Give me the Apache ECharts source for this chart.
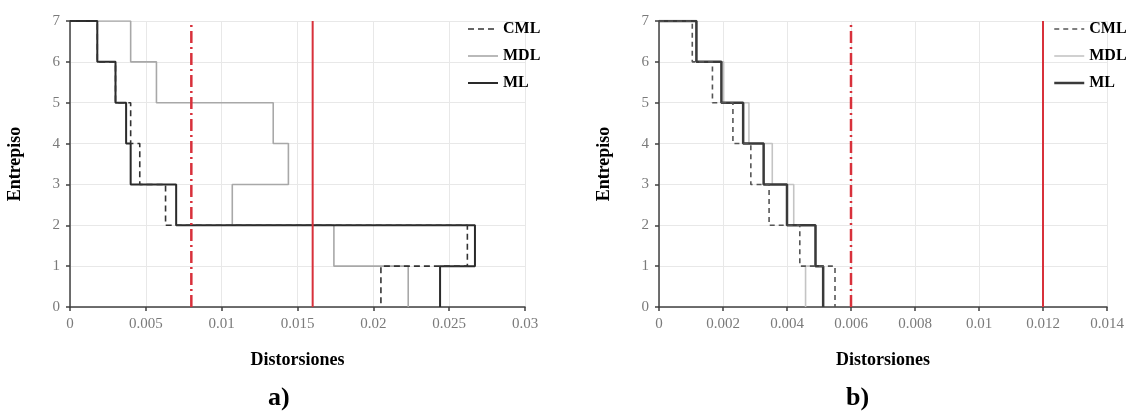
<!DOCTYPE html>
<html>
<head>
<meta charset="utf-8">
<script src="https://cdn.jsdelivr.net/npm/echarts@6/dist/echarts.min.js"></script>
<style>
html,body{margin:0;padding:0;background:#fff;}
#chart{width:1133px;height:414px;}
</style>
</head>
<body>
<div id="chart"></div>
<script>
// Story drifts, listed from story 1 (bottom) to story 7 (top)
const stories = [1, 2, 3, 4, 5, 6, 7];
const cmlA = [0.0205, 0.0262, 0.0063, 0.0046, 0.0040, 0.0030, 0.0018];
const mdlA = [0.0223, 0.0174, 0.0107, 0.0144, 0.0134, 0.0057, 0.0040];
const mlA  = [0.0244, 0.0267, 0.0070, 0.0040, 0.0037, 0.0030, 0.0018];
const cmlB = [0.0055, 0.0044, 0.00344, 0.00287, 0.00231, 0.00167, 0.00104];
const mdlB = [0.00458, 0.0049, 0.00421, 0.00354, 0.00281, 0.00202, 0.00115];
const mlB  = [0.00513, 0.00489, 0.0040, 0.00327, 0.00263, 0.00195, 0.00117];
// Drift limits (dash-dot, solid)
const limitsA = [0.008, 0.016];
const limitsB = [0.006, 0.012];
const seriesNames = ['CML', 'MDL', 'ML'];
const captions = ['a)', 'b)'];
const xTickA = {min: 0, max: 0.03, interval: 0.005};
const xTickB = {min: 0, max: 0.014, interval: 0.002};
const yTick = {min: 0, max: 7, interval: 1};

function steps(d) {
  const top = stories[stories.length - 1];
  const pts = [[0, top]];
  for (let i = stories.length - 1; i >= 0; i--) {
    pts.push([d[i], stories[i]]);
    pts.push([d[i], stories[i] - 1]);
  }
  return pts;
}
function vline(x) { return [[x, 0], [x, stories[stories.length - 1]]]; }

const serif = 'Liberation Serif';
const red = '#d8313b';
const gridColor = '#e8e8e8';

function xAxis(idx, t) {
  return {
    type: 'value', gridIndex: idx, min: t.min, max: t.max, interval: t.interval,
    name: 'Distorsiones', nameLocation: 'middle', nameGap: 44,
    nameTextStyle: {fontFamily: serif, fontWeight: 'bold', fontSize: 18, color: '#000'},
    axisLine: {show: true, lineStyle: {color: '#404040', width: 1.5}},
    axisTick: {show: true, length: 4, lineStyle: {color: '#404040', width: 1.5}},
    axisLabel: {fontFamily: serif, fontSize: 15, color: '#7a7a7a', margin: 10},
    splitLine: {show: true, lineStyle: {color: gridColor, width: 1}}
  };
}
function yAxis(idx) {
  return {
    type: 'value', gridIndex: idx, min: yTick.min, max: yTick.max, interval: yTick.interval,
    name: 'Entrepiso', nameLocation: 'middle', nameGap: 46, nameRotate: 90,
    nameTextStyle: {fontFamily: serif, fontWeight: 'bold', fontSize: 18, color: '#000'},
    axisLine: {show: true, onZero: false, lineStyle: {color: '#404040', width: 1.5}},
    axisTick: {show: true, length: 4, lineStyle: {color: '#404040', width: 1.5}},
    axisLabel: {fontFamily: serif, fontSize: 15, color: '#7a7a7a', margin: 10},
    splitLine: {show: true, lineStyle: {color: gridColor, width: 1}}
  };
}
function profile(name, data, idx, style) {
  return {
    name: name, type: 'line', xAxisIndex: idx, yAxisIndex: idx,
    data: data, symbol: 'none', animation: false, z: style.z || 2,
    lineStyle: {color: style.color, width: style.width, type: style.type || 'solid'},
    itemStyle: {color: style.color}
  };
}
function limitLine(x, idx, dashed) {
  return {
    name: dashed ? 'lim1' : 'lim2', type: 'line', xAxisIndex: idx, yAxisIndex: idx,
    data: vline(x), symbol: 'none', animation: false, z: 5, silent: true,
    lineStyle: {color: red, width: dashed ? 2.5 : 2, type: dashed ? [12, 4, 2, 4] : 'solid'}
  };
}
const styA = {
  CML: {color: '#333', width: 1.6, type: [6, 4], z: 4},
  MDL: {color: '#a8a8a8', width: 1.6, z: 2},
  ML:  {color: '#2a2a2a', width: 2, z: 3}
};
const styB = {
  CML: {color: '#555', width: 1.6, type: [5, 4], z: 4},
  MDL: {color: '#c4c4c4', width: 1.6, z: 2},
  ML:  {color: '#3a3a3a', width: 2.5, z: 3}
};
function legend(left, sty) {
  return {
    orient: 'vertical', left: left, top: 21, padding: 0,
    itemWidth: 30, itemHeight: 14, itemGap: 11,
    selectedMode: false,
    textStyle: {fontFamily: serif, fontWeight: 'bold', fontSize: 16, color: '#000'},
    data: seriesNames.map(n => ({
      name: n,
      itemStyle: {opacity: 0, color: 'transparent', borderWidth: 0},
      lineStyle: {color: sty[n].color, width: sty[n].width, type: sty[n].type || 'solid'}
    }))
  };
}

const chart = echarts.init(document.getElementById('chart'), null, {renderer: 'canvas'});
chart.setOption({
  backgroundColor: '#fff',
  animation: false,
  grid: [
    {left: 70, right: 608, top: 21, bottom: 107},
    {left: 659, right: 26, top: 21, bottom: 107}
  ],
  xAxis: [xAxis(0, xTickA), xAxis(1, xTickB)],
  yAxis: [yAxis(0), yAxis(1)],
  legend: [legend(467, styA), legend(1053, styB)],
  series: [
    profile('MDL', steps(mdlA), 0, styA.MDL),
    profile('ML', steps(mlA), 0, styA.ML),
    profile('CML', steps(cmlA), 0, styA.CML),
    limitLine(limitsA[0], 0, true),
    limitLine(limitsA[1], 0, false),
    profile('MDL', steps(mdlB), 1, styB.MDL),
    profile('ML', steps(mlB), 1, styB.ML),
    profile('CML', steps(cmlB), 1, styB.CML),
    limitLine(limitsB[0], 1, true),
    limitLine(limitsB[1], 1, false)
  ],
  graphic: [
    {type: 'text', left: 268, top: 385, style: {text: captions[0], fontFamily: serif, fontWeight: 'bold', fontSize: 26, fill: '#000'}},
    {type: 'text', left: 846, top: 385, style: {text: captions[1], fontFamily: serif, fontWeight: 'bold', fontSize: 26, fill: '#000'}}
  ]
});
</script>
</body>
</html>
